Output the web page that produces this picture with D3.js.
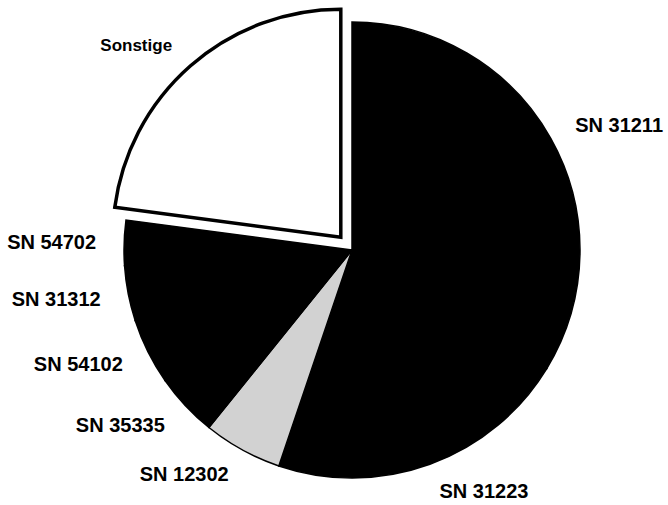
<!DOCTYPE html>
<html>
<head>
<meta charset="utf-8">
<script src="https://cdn.jsdelivr.net/npm/d3@7"></script>
<style>
  body { margin: 0; background: #fff; }
  .label { font-family: "Liberation Sans", Arial, sans-serif; font-weight: bold; fill: #000; }
</style>
</head>
<body>
<svg id="pie"></svg>
<script>
// slices, clockwise from 12 o'clock (percent)
var categories = ['SN 31211', 'SN 31223', 'SN 12302', 'SN 35335', 'SN 54102', 'SN 31312', 'SN 54702', 'Sonstige']
var shares = [33.7, 21.5, 5.6, 4.5, 4.7, 3.9, 3.2, 22.9]
var fills = ['#000', '#000', '#d2d2d2', '#000', '#000', '#000', '#000', '#fff']
var exploded = ['Sonstige']

var width = 668, height = 505
var cx = 352, cy = 250, radius = 228, labelRadius = 256, explode = 17

var data = categories.map(function (c, i) { return { name: c, value: shares[i], fill: fills[i] } })

var svg = d3.select('#pie').attr('width', width).attr('height', height)

var pie = d3.pie().sort(null).value(d => d.value)
var arc = d3.arc().innerRadius(0).outerRadius(radius)
var labelArc = d3.arc().innerRadius(labelRadius).outerRadius(labelRadius)

var g = svg.append('g').attr('transform', 'translate(' + cx + ',' + cy + ')')

var arcs = pie(data)

function offset (d) {
  if (exploded.indexOf(d.data.name) < 0) return [0, 0]
  var mid = (d.startAngle + d.endAngle) / 2
  return [Math.sin(mid) * explode, -Math.cos(mid) * explode]
}

g.selectAll('path.slice').data(arcs).enter().append('path')
  .attr('class', 'slice')
  .attr('d', arc)
  .attr('transform', d => 'translate(' + offset(d) + ')')
  .attr('fill', d => d.data.fill)
  .attr('stroke', '#000')
  .attr('stroke-width', d => d.data.fill == '#fff' ? 3.5 : 1.5)
  .attr('stroke-linejoin', 'miter')

g.selectAll('text.label').data(arcs).enter().append('text')
  .attr('class', 'label')
  .attr('transform', function (d) {
    var p = labelArc.centroid(d), o = offset(d)
    return 'translate(' + (p[0] + o[0]) + ',' + (p[1] + o[1]) + ')'
  })
  .attr('dy', '0.35em')
  .attr('text-anchor', d => ((d.startAngle + d.endAngle) / 2 > Math.PI ? 'end' : 'start'))
  .style('font-size', d => (d.data.name == 'Sonstige' ? '17px' : '20px'))
  .text(d => d.data.name)
</script>
</body>
</html>
